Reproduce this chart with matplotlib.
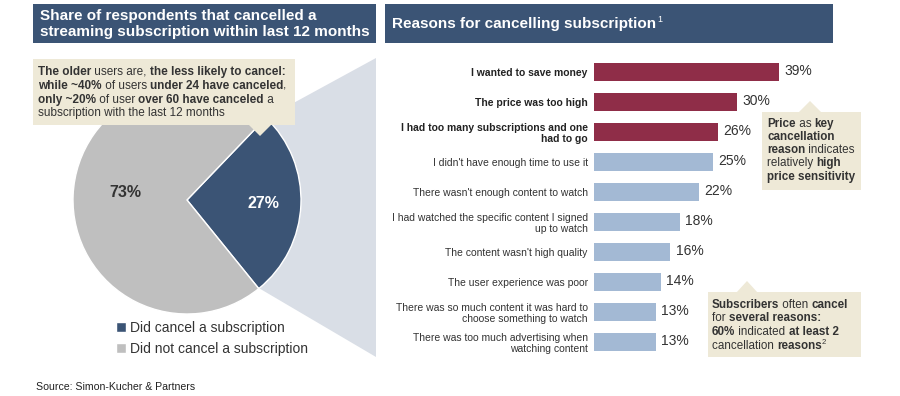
import matplotlib
matplotlib.use("Agg")
import matplotlib.pyplot as plt
from matplotlib.patches import Rectangle, Polygon
from matplotlib.font_manager import FontProperties

plt.rcParams['font.family'] = ['Liberation Sans', 'DejaVu Sans']

# ---- data ----
pie_labels = ["Did cancel a subscription", "Did not cancel a subscription"]
pie_values = [27, 73]

reasons = [
    "I wanted to save money",
    "The price was too high",
    "I had too many subscriptions and one\nhad to go",
    "I didn't have enough time to use it",
    "There wasn't enough content to watch",
    "I had watched the specific content I signed\nup to watch",
    "The content wasn't high quality",
    "The user experience was poor",
    "There was so much content it was hard to\nchoose something to watch",
    "There was too much advertising when\nwatching content",
]
shares = [39, 30, 26, 25, 22, 18, 16, 14, 13, 13]
n_price = 3  # price-related reasons highlighted

# ---- colours ----
NAVY = "#3B5475"
RED = "#8F2D48"
LIGHTBAR = "#A3B9D4"
GREY = "#BFBFBF"
PROJ = "#D9DEE6"
BEIGE = "#EEE9D7"
TXT = "#333333"

W, H = 900, 396
fig = plt.figure(figsize=(W / 100, H / 100), dpi=100)
renderer = fig.canvas.get_renderer()


def fig_box(x0, y0, x1, y1):
    # pixel box (top-left origin) -> figure fraction rect
    return [x0 / W, 1 - y1 / H, (x1 - x0) / W, (y1 - y0) / H]


def pixel_axes(z):
    a = fig.add_axes([0, 0, 1, 1], zorder=z)
    a.set_xlim(0, W)
    a.set_ylim(H, 0)
    a.axis('off')
    a.patch.set_visible(False)
    return a


def seg_width(s, size, weight):
    fp = FontProperties(family=plt.rcParams['font.family'], size=size, weight=weight)
    w1 = renderer.get_text_width_height_descent(s + "|", fp, ismath=False)[0]
    w0 = renderer.get_text_width_height_descent("|", fp, ismath=False)[0]
    return w1 - w0


def rich_line(ax, x, y, parts, size, color=TXT):
    # parts: list of (text, bold) ; draws pieces side by side
    for s, b in parts:
        weight = 'bold' if b else 'normal'
        if s == "^2":
            ax.text(x, y - 4, "2", fontsize=size * 0.65, color=color, va='center', ha='left')
            x += seg_width("2", size * 0.65, 'normal')
            continue
        ax.text(x, y, s, fontsize=size, fontweight=weight, color=color, va='center', ha='left')
        x += seg_width(s, size, weight)


# background layer: projection from pie wedge to bar chart
bg = pixel_axes(0)
bg.add_patch(Polygon([(187, 200), (266, 118), (376, 58), (376, 357), (257, 287)],
                     closed=True, facecolor=PROJ, edgecolor='none'))

# ---- pie ----
ax_pie = fig.add_axes(fig_box(73, 86, 301, 314), zorder=1)
wedges, _ = ax_pie.pie(pie_values, colors=[NAVY, GREY], startangle=-51,
                       counterclock=True,
                       wedgeprops=dict(edgecolor='white', linewidth=1))
ax_pie.set_xlim(-1, 1)
ax_pie.set_ylim(-1, 1)
ax_pie.text(0.67, -0.03, f"{pie_values[0]}%", color='white', fontsize=11.5,
            fontweight='bold', ha='center', va='center')
ax_pie.text(-0.54, 0.07, f"{pie_values[1]}%", color=TXT, fontsize=11.5,
            fontweight='bold', ha='center', va='center')
leg = ax_pie.legend(wedges, pie_labels, loc='upper left',
                    bbox_to_anchor=(116 / W, 1 - 321 / H), bbox_transform=fig.transFigure,
                    frameon=False, fontsize=10, handlelength=0.75, handleheight=0.75,
                    handletextpad=0.25, labelspacing=0.5, borderpad=0, borderaxespad=0)
for t in leg.get_texts():
    t.set_color(TXT)

# ---- bars ----
px_per_pct = 4.75
ax_bar = fig.add_axes(fig_box(594, 57, 594 + 45 * px_per_pct, 357), zorder=1)
ypos = list(range(len(reasons)))
bar_colors = [RED if i < n_price else LIGHTBAR for i in ypos]
ax_bar.barh(ypos, shares, height=0.57, color=bar_colors)
ax_bar.set_xlim(0, 45)
ax_bar.set_ylim(len(reasons) - 0.5, -0.5)
ax_bar.set_yticks(ypos)
ax_bar.set_yticklabels(reasons, fontsize=7.5, color=TXT, linespacing=1.08)
for i, lab in enumerate(ax_bar.get_yticklabels()):
    if i < n_price:
        lab.set_fontweight('bold')
        lab.set_color('#222222')
ax_bar.tick_params(axis='y', length=0, pad=4.5)
ax_bar.set_xticks([])
for sp in ax_bar.spines.values():
    sp.set_visible(False)
ax_bar.patch.set_visible(False)
for i, v in enumerate(shares):
    ax_bar.annotate(f"{v}%", (v, i), xytext=(4, 1), textcoords='offset points',
                    va='center', ha='left', fontsize=10, color=TXT)

# ---- overlay: titles, callouts, source ----
ov = pixel_axes(3)

ov.add_patch(Rectangle((33, 4), 343, 39, facecolor=NAVY, edgecolor='none'))
ov.text(40, 16, "Share of respondents that cancelled a", color='white', fontsize=11,
        fontweight='bold', va='center')
ov.text(40, 32, "streaming subscription within last 12 months", color='white', fontsize=11,
        fontweight='bold', va='center')

ov.add_patch(Rectangle((385, 4), 448, 39, facecolor=NAVY, edgecolor='none'))
title_r = "Reasons for cancelling subscription"
ov.text(392, 24, title_r, color='white', fontsize=11, fontweight='bold', va='center')
ov.text(392 + seg_width(title_r, 11, 'bold') + 1, 19, "1", color='white', fontsize=6.5,
        va='center')

# left callout
ov.add_patch(Rectangle((33, 59), 262, 66, facecolor=BEIGE, edgecolor='none'))
ov.add_patch(Polygon([(248, 124), (272, 124), (260, 136)], closed=True,
                     facecolor=BEIGE, edgecolor='none'))
cs = 8.5
rich_line(ov, 38, 72, [("The older", True), (" users are, ", False),
                       ("the less likely to cancel:", True)], cs)
rich_line(ov, 38, 86, [("while ~40%", True), (" of users ", False),
                       ("under 24 have canceled", True), (",", False)], cs)
rich_line(ov, 38, 100, [("only ~20%", True), (" of user ", False),
                        ("over 60 have canceled", True), (" a", False)], cs)
rich_line(ov, 38, 113, [("subscription with the last 12 months", False)], cs)

# right callout 1
ov.add_patch(Rectangle((762, 112), 99, 78, facecolor=BEIGE, edgecolor='none'))
ov.add_patch(Polygon([(798, 113), (822, 113), (810, 101)], closed=True,
                     facecolor=BEIGE, edgecolor='none'))
rs = 8.4
rich_line(ov, 767, 124, [("Price", True), (" as ", False), ("key", True)], rs)
rich_line(ov, 767, 137, [("cancellation", True)], rs)
rich_line(ov, 767, 150, [("reason", True), (" indicates", False)], rs)
rich_line(ov, 767, 163, [("relatively ", False), ("high", True)], rs)
rich_line(ov, 767, 177, [("price sensitivity", True)], rs)

# right callout 2
ov.add_patch(Rectangle((708, 292), 153, 65, facecolor=BEIGE, edgecolor='none'))
ov.add_patch(Polygon([(736, 293), (758, 293), (747, 281)], closed=True,
                     facecolor=BEIGE, edgecolor='none'))
rich_line(ov, 712, 305, [("Subscribers", True), (" often ", False), ("cancel", True)], rs)
rich_line(ov, 712, 318, [("for ", False), ("several reasons:", True)], rs)
rich_line(ov, 712, 332, [("60%", True), (" indicated ", False), ("at least 2", True)], rs)
rich_line(ov, 712, 346, [("cancellation ", False), ("reasons", True), ("^2", False)], rs)

ov.text(36, 387, "Source: Simon-Kucher & Partners", fontsize=7.6, color='#222222',
        va='center')

fig.savefig("out.png", dpi=100)
